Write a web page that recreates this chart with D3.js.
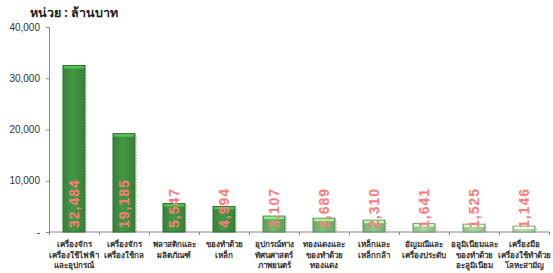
<!DOCTYPE html>
<html><head><meta charset="utf-8">
<script src="https://cdn.jsdelivr.net/npm/d3@7/dist/d3.min.js"></script>
<style>
html,body{margin:0;padding:0;background:#fff;}
svg{display:block;font-family:Tahoma,"Noto Sans","DejaVu Sans",sans-serif;}
</style></head>
<body>
<svg id="c" width="553" height="273"></svg>
<script>
const categories = [
  ["เครื่องจักร","เครื่องใช้ไฟฟ้า","และอุปกรณ์"],
  ["เครื่องจักร","เครื่องใช้กล"],
  ["พลาสติกและ","ผลิตภัณฑ์"],
  ["ของทำด้วย","เหล็ก"],
  ["อุปกรณ์ทาง","ทัศนศาสตร์","ภาพยนตร์"],
  ["ทองแดงและ","ของทำด้วย","ทองแดง"],
  ["เหล็กและ","เหล็กกล้า"],
  ["อัญมณีและ","เครื่องประดับ"],
  ["อลูมิเนียมและ","ของทำด้วย","อะลูมิเนียม"],
  ["เครื่องมือ","เครื่องใช้ทำด้วย","โลหะสามัญ"]
];
const values = [32484, 19185, 5547, 4994, 3107, 2689, 2310, 1641, 1525, 1146];
const yTicks = [0, 10000, 20000, 30000, 40000];
const yTickLabels = ["-", "10,000", "20,000", "30,000", "40,000"];
const unitLabel = "หน่วย : ล้านบาท";

const svg = d3.select("#c");
const m = {l:49, r:4, t:27, b:41};
const W = 553, H = 273;
const x = d3.scaleBand().domain(d3.range(values.length)).range([m.l, W - m.r]).paddingInner(0.56).paddingOuter(0.28);
const y = d3.scaleLinear().domain([0, 40000]).range([H - m.b, m.t]);

const col = d3.scaleLinear().domain([1000, 3000, 5000]).range(["#b9d9b0", "#6fb268", "#3f9140"]).clamp(true);
const stroke = d3.scaleLinear().domain([1000, 5000]).range(["#7aa877", "#2e6e2e"]).clamp(true);

svg.append("text").attr("x", 30).attr("y", 17).attr("font-size", 12.5).attr("font-weight", "bold").attr("fill", "#222").text(unitLabel);

const yAxis = d3.axisLeft(y).tickValues(yTicks).tickFormat((d,i) => yTickLabels[i]).tickSize(3).tickSizeOuter(0);
const gy = svg.append("g").attr("transform", `translate(${m.l},0)`).call(yAxis);
gy.select(".domain").attr("stroke", "#888");
gy.selectAll(".tick line").attr("stroke", "#888");
gy.selectAll(".tick text").attr("font-size", 10).attr("fill", "#333").attr("font-family", "Arial, Liberation Sans, sans-serif").attr("x", -9);

svg.append("line").attr("x1", m.l).attr("x2", W - m.r).attr("y1", y(0)).attr("y2", y(0)).attr("stroke", "#888");
svg.append("g").selectAll("line").data(d3.range(values.length + 1)).join("line")
  .attr("x1", i => Math.round(m.l + i * x.step()) + 0.5)
  .attr("x2", i => Math.round(m.l + i * x.step()) + 0.5)
  .attr("y1", y(0)).attr("y2", y(0) + 3).attr("stroke", "#888");

const defs = svg.append("defs");
values.forEach((v, i) => {
  const g = defs.append("linearGradient").attr("id", "g" + i).attr("x1", 0).attr("x2", 1).attr("y1", 0).attr("y2", 0);
  const c = d3.color(col(v));
  g.append("stop").attr("offset", "0%").attr("stop-color", c.darker(0.3));
  g.append("stop").attr("offset", "45%").attr("stop-color", c.brighter(0.15));
  g.append("stop").attr("offset", "100%").attr("stop-color", c.darker(0.35));
});

const bars = svg.append("g").selectAll("g").data(values).join("g");
bars.append("line")
  .attr("x1", (d,i) => x(i) + x.bandwidth() + 1.5).attr("x2", (d,i) => x(i) + x.bandwidth() + 1.5)
  .attr("y1", d => y(d) + 3).attr("y2", y(0))
  .attr("stroke", "#aaa").attr("stroke-dasharray", "1,2");
bars.append("rect")
  .attr("x", (d,i) => x(i)).attr("width", x.bandwidth())
  .attr("y", d => y(d)).attr("height", d => y(0) - y(d))
  .attr("fill", (d,i) => `url(#g${i})`).attr("stroke", d => stroke(d)).attr("stroke-width", 1);
bars.append("rect")
  .attr("x", (d,i) => x(i) + 1).attr("width", x.bandwidth() - 2)
  .attr("y", d => y(d) + 0.5).attr("height", 2.5)
  .attr("fill", d => d3.color(col(d)).brighter(0.8));

bars.append("text")
  .attr("transform", (d,i) => `translate(${x(i) + x.bandwidth()/2 + 5},${y(0) - 4}) rotate(-90)`)
  .attr("font-size", 14).attr("font-weight", "bold").attr("fill", "#ff7b7b").attr("letter-spacing", 1)
  .attr("font-family", "Arial, Liberation Sans, sans-serif")
  .text(d => d3.format(",")(d));

const cl = svg.append("g").selectAll("text").data(categories).join("text")
  .attr("text-anchor", "middle").attr("font-size", 8).attr("font-weight", "bold").attr("fill", "#333")
  .attr("x", (d,i) => x(i) + x.bandwidth()/2).attr("y", 247);
cl.selectAll("tspan").data(d => d).join("tspan")
  .attr("x", function(){ return d3.select(this.parentNode).attr("x"); })
  .attr("dy", (d,j) => j === 0 ? 0 : 10.5).text(d => d);
</script>
</body></html>
